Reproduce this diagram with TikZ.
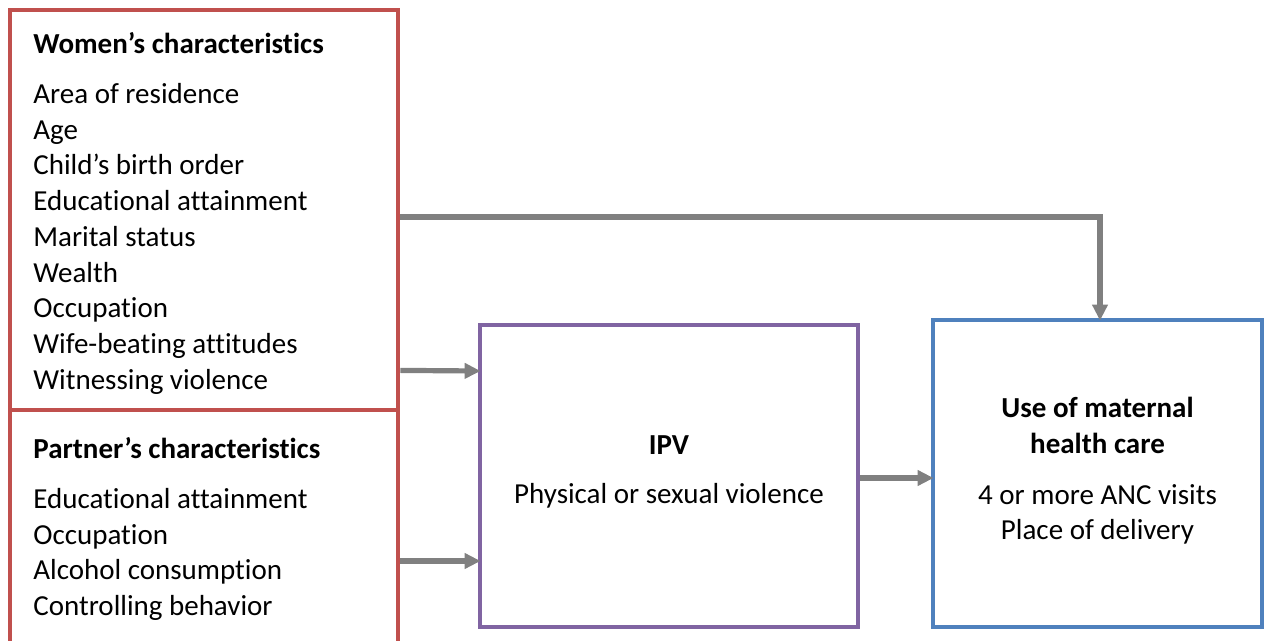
\documentclass[tikz,border=0pt]{standalone}
\usepackage{fontspec}
\setmainfont{Carlito}[Ligatures=NoCommon]
\usepackage{tikz}
\usetikzlibrary{arrows.meta,positioning,calc}

\definecolor{boxred}{HTML}{C0504D}
\definecolor{boxpurple}{HTML}{8064A2}
\definecolor{boxblue}{HTML}{4F81BD}
\definecolor{linkgray}{HTML}{808080}

\tikzset{
  framebox/.style={draw,line width=2.4pt,inner sep=0pt},
  listtext/.style={inner sep=0pt,font=\fontsize{14.5pt}{17.85pt}\selectfont},
  link/.style={->,draw=linkgray,line width=2.6pt,shorten >=-1.5pt}
}

\begin{document}
\begin{tikzpicture}[x=0.5pt,y=-0.5pt,>={Triangle[length=8pt,width=7.5pt]}]
      \useasboundingbox (0,0) rectangle (1264,641);

      % boxes
      \node[framebox,draw=boxred,minimum width=194pt,minimum height=200pt] (women) at (204,210) {};
      \node[framebox,draw=boxred,minimum width=194pt,minimum height=116.5pt] (partner) at (204,526.5) {};
      \node[framebox,draw=boxpurple,minimum width=189pt,minimum height=151pt] (ipv) at (669,476) {};
      \node[framebox,draw=boxblue,minimum width=164.5pt,minimum height=153.5pt] (care) at (1097.5,473.5) {};

      % texts
      \node[listtext,anchor=north west,align=left] (womentext) at (33,32)
        {\textbf{Women’s characteristics}\\[7.2pt]
         Area of residence\\ Age\\ Child’s birth order\\ Educational attainment\\
         Marital status\\ Wealth\\ Occupation\\ Wife-beating attitudes\\ Witnessing violence};
      \node[listtext,anchor=north west,align=left] (partnertext) at (33,437)
        {\textbf{Partner’s characteristics}\\[7.2pt]
         Educational attainment\\ Occupation\\ Alcohol consumption\\ Controlling behavior};
      \node[listtext,anchor=north,align=center] (ipvtext) at (669,435)
        {\textbf{IPV}\\[6.6pt] Physical or sexual violence};
      \node[listtext,anchor=north,align=center] (caretext) at (1097.5,397)
        {\textbf{Use of maternal}\\ \textbf{health care}\\[7.5pt]
         4 or more ANC visits\\ Place of delivery};

      % links
      \draw[link] ($(women.east)+(0,7)$) -| ($(care.north)+(2.5,0)$);
      \draw[link] ($(women.south east)+(0,-42)$) -- ($(ipv.west)+(0,-105)$);
      \draw[link] ($(partner.east)+(0,34.5)$) -- ($(ipv.west)+(0,85)$);
      \draw[link] ($(ipv.east)+(0,2)$) -- ($(care.west)+(0,4.5)$);

  \end{tikzpicture}
\end{document}
